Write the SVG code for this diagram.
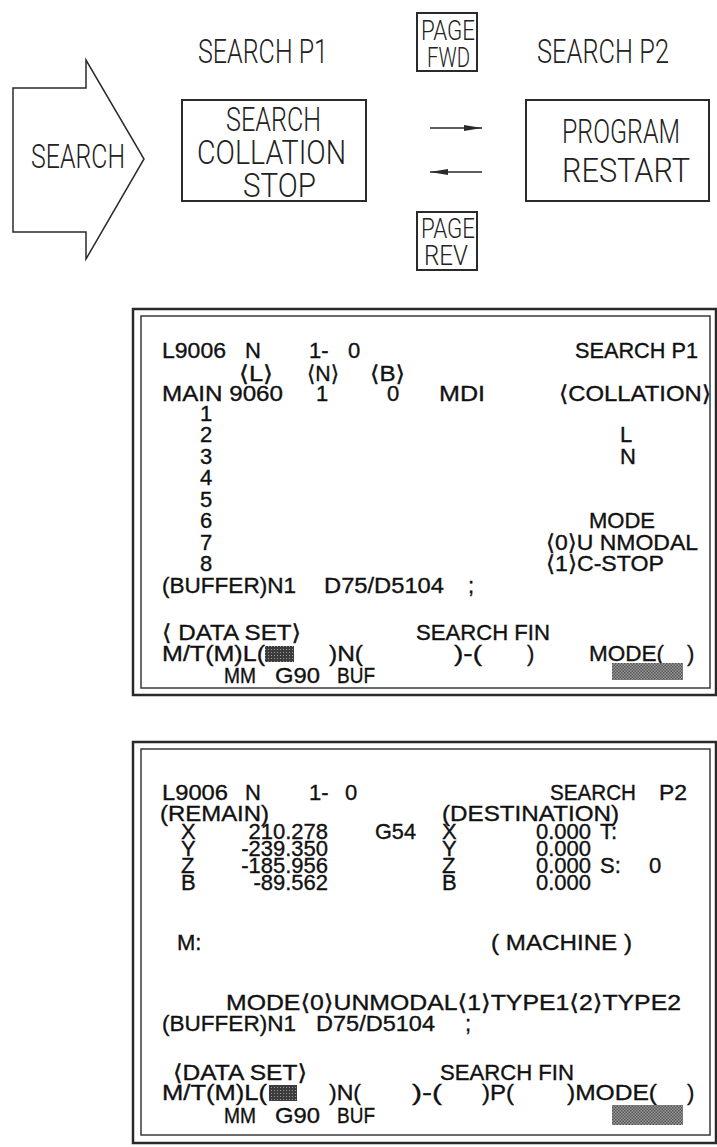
<svg xmlns="http://www.w3.org/2000/svg" width="717" height="1147" viewBox="0 0 717 1147">
<style>
.big{font-family:Roboto,"DejaVu Sans","Liberation Sans",sans-serif;font-weight:300;font-size:34px;fill:#222}
.pg{font-family:Roboto,"DejaVu Sans","Liberation Sans",sans-serif;font-weight:300;font-size:27px;fill:#222}
.t{font-family:"Liberation Sans","DejaVu Sans",sans-serif;font-size:22px;fill:#111;stroke:#111;stroke-width:0.35}
.box{fill:none;stroke:#2a2a2a;stroke-width:2}
.outer{fill:none;stroke:#2a2a2a;stroke-width:2.5}
.inner{fill:none;stroke:#3a3a3a;stroke-width:1.5}
.ln{stroke:#2a2a2a;stroke-width:1.5}
</style>
<defs>
<pattern id="dk" width="3" height="3" patternUnits="userSpaceOnUse">
<rect width="3" height="3" fill="#3c3c3c"/><rect x="1" y="1" width="1" height="1" fill="#9a9a9a"/>
</pattern>
<pattern id="lt" width="3" height="3" patternUnits="userSpaceOnUse">
<rect width="3" height="3" fill="#9a9a9a"/><rect x="0" y="0" width="1.5" height="1.5" fill="#555"/><rect x="1.5" y="1.5" width="1.5" height="1.5" fill="#555"/>
</pattern>
<marker id="ah" viewBox="0 0 18 6" refX="18" refY="3" markerWidth="18" markerHeight="6" markerUnits="userSpaceOnUse" orient="auto">
<path d="M0,0 L18,3 L0,6 Z" fill="#2a2a2a"/>
</marker>
</defs>

<g id="search-arrow">
<path d="M13,88 L86,88 L86,60 L144,159 L86,259 L86,232 L13,232 Z" fill="none" stroke="#2a2a2a" stroke-width="1.5"/>
<text class="big" x="31" y="168" textLength="94" lengthAdjust="spacingAndGlyphs">SEARCH</text>
</g>

<g id="label-p1"><text class="big" x="198" y="63" textLength="130" lengthAdjust="spacingAndGlyphs">SEARCH P1</text></g>
<g id="label-p2"><text class="big" x="537" y="63" textLength="132" lengthAdjust="spacingAndGlyphs">SEARCH P2</text></g>

<g id="node-collation">
<rect class="box" x="182" y="100" width="184" height="101"/>
<text class="big" x="226" y="131" textLength="95" lengthAdjust="spacingAndGlyphs">SEARCH</text>
<text class="big" x="197" y="164" textLength="149" lengthAdjust="spacingAndGlyphs">COLLATION</text>
<text class="big" x="243" y="197" textLength="73" lengthAdjust="spacingAndGlyphs">STOP</text>
</g>

<g id="node-restart">
<rect class="box" x="526" y="100" width="183" height="101"/>
<text class="big" x="562" y="143" textLength="118" lengthAdjust="spacingAndGlyphs">PROGRAM</text>
<text class="big" x="562" y="182" textLength="128" lengthAdjust="spacingAndGlyphs">RESTART</text>
</g>

<g id="key-page-fwd">
<rect class="box" x="417" y="13" width="60" height="58"/>
<text class="pg" x="421" y="40" textLength="54" lengthAdjust="spacingAndGlyphs">PAGE</text>
<text class="pg" x="427" y="67" textLength="43" lengthAdjust="spacingAndGlyphs">FWD</text>
</g>

<g id="key-page-rev">
<rect class="box" x="417" y="212" width="60" height="58"/>
<text class="pg" x="421" y="238" textLength="54" lengthAdjust="spacingAndGlyphs">PAGE</text>
<text class="pg" x="424" y="265" textLength="44" lengthAdjust="spacingAndGlyphs">REV</text>
</g>

<g id="connectors">
<line class="ln" x1="430" y1="128" x2="482" y2="128" marker-end="url(#ah)"/>
<line class="ln" x1="482" y1="172" x2="430" y2="172" marker-end="url(#ah)"/>
</g>

<g id="screen-p1">
<rect class="outer" x="133" y="309" width="583" height="386"/>
<rect class="inner" x="141" y="316" width="569" height="372"/>
<text class="t" x="162" y="358" textLength="64" lengthAdjust="spacingAndGlyphs">L9006</text>
<text class="t" x="245" y="358">N</text>
<text class="t" x="309" y="358">1-</text>
<text class="t" x="348" y="358">0</text>
<text class="t" x="575" y="358" textLength="123" lengthAdjust="spacingAndGlyphs">SEARCH P1</text>
<text class="t" x="239" y="381" textLength="34" lengthAdjust="spacingAndGlyphs">⟨L⟩</text>
<text class="t" x="307" y="381" textLength="32" lengthAdjust="spacingAndGlyphs">⟨N⟩</text>
<text class="t" x="370" y="381" textLength="35" lengthAdjust="spacingAndGlyphs">⟨B⟩</text>
<text class="t" x="162" y="401" textLength="121" lengthAdjust="spacingAndGlyphs">MAIN 9060</text>
<text class="t" x="316" y="401">1</text>
<text class="t" x="387" y="401">0</text>
<text class="t" x="439" y="401" textLength="46" lengthAdjust="spacingAndGlyphs">MDI</text>
<text class="t" x="559" y="401" textLength="152" lengthAdjust="spacingAndGlyphs">⟨COLLATION⟩</text>
<g text-anchor="middle">
<text class="t" x="206" y="421">1</text>
<text class="t" x="206" y="442">2</text>
<text class="t" x="206" y="464">3</text>
<text class="t" x="206" y="485">4</text>
<text class="t" x="206" y="507">5</text>
<text class="t" x="206" y="528">6</text>
<text class="t" x="206" y="550">7</text>
<text class="t" x="206" y="571">8</text>
</g>
<text class="t" x="620" y="442">L</text>
<text class="t" x="620" y="464">N</text>
<text class="t" x="589" y="528" textLength="66" lengthAdjust="spacingAndGlyphs">MODE</text>
<text class="t" x="546" y="550" textLength="152" lengthAdjust="spacingAndGlyphs">⟨0⟩U NMODAL</text>
<text class="t" x="546" y="571" textLength="118" lengthAdjust="spacingAndGlyphs">⟨1⟩C-STOP</text>
<text class="t" x="162" y="593" textLength="134" lengthAdjust="spacingAndGlyphs">(BUFFER)N1</text>
<text class="t" x="324" y="593" textLength="120" lengthAdjust="spacingAndGlyphs">D75/D5104</text>
<text class="t" x="468" y="593">;</text>
<text class="t" x="162" y="640" textLength="139" lengthAdjust="spacingAndGlyphs">⟨ DATA SET⟩</text>
<text class="t" x="416" y="640" textLength="134" lengthAdjust="spacingAndGlyphs">SEARCH FIN</text>
<text class="t" x="162" y="661" textLength="103" lengthAdjust="spacingAndGlyphs">M/T(M)L(</text>
<rect x="265" y="646" width="29" height="16" fill="url(#dk)"/>
<text class="t" x="329" y="661" textLength="34" lengthAdjust="spacingAndGlyphs">)N(</text>
<text class="t" x="454" y="661" textLength="28" lengthAdjust="spacingAndGlyphs">)-(</text>
<text class="t" x="527" y="661">)</text>
<text class="t" x="589" y="661" textLength="75" lengthAdjust="spacingAndGlyphs">MODE(</text>
<text class="t" x="687" y="661">)</text>
<rect x="612" y="663" width="71" height="17" fill="url(#lt)"/>
<text class="t" x="224" y="683" textLength="32" lengthAdjust="spacingAndGlyphs">MM</text>
<text class="t" x="275" y="683" textLength="45" lengthAdjust="spacingAndGlyphs">G90</text>
<text class="t" x="337" y="683" textLength="38" lengthAdjust="spacingAndGlyphs">BUF</text>
</g>

<g id="screen-p2">
<rect class="outer" x="133" y="742" width="583" height="401"/>
<rect class="inner" x="141" y="749" width="569" height="386"/>
<text class="t" x="162" y="800" textLength="66" lengthAdjust="spacingAndGlyphs">L9006</text>
<text class="t" x="245" y="800">N</text>
<text class="t" x="309" y="800">1-</text>
<text class="t" x="345" y="800">0</text>
<text class="t" x="550" y="800" textLength="86" lengthAdjust="spacingAndGlyphs">SEARCH</text>
<text class="t" x="659" y="800" textLength="28" lengthAdjust="spacingAndGlyphs">P2</text>
<text class="t" x="160" y="821" textLength="109" lengthAdjust="spacingAndGlyphs">(REMAIN)</text>
<text class="t" x="442" y="821" textLength="177" lengthAdjust="spacingAndGlyphs">(DESTINATION)</text>
<text class="t" x="181" y="839">X</text>
<text class="t" x="181" y="856">Y</text>
<text class="t" x="181" y="873">Z</text>
<text class="t" x="181" y="890">B</text>
<g text-anchor="end">
<text class="t" x="328" y="839">210.278</text>
<text class="t" x="328" y="856">-239.350</text>
<text class="t" x="328" y="873">-185.956</text>
<text class="t" x="328" y="890">-89.562</text>
<text class="t" x="591" y="839">0.000</text>
<text class="t" x="591" y="856">0.000</text>
<text class="t" x="591" y="873">0.000</text>
<text class="t" x="591" y="890">0.000</text>
</g>
<text class="t" x="375" y="839" textLength="41" lengthAdjust="spacingAndGlyphs">G54</text>
<text class="t" x="442" y="839">X</text>
<text class="t" x="442" y="856">Y</text>
<text class="t" x="442" y="873">Z</text>
<text class="t" x="442" y="890">B</text>
<text class="t" x="600" y="839">T:</text>
<text class="t" x="600" y="873">S:</text>
<text class="t" x="649" y="873">0</text>
<text class="t" x="177" y="950">M:</text>
<text class="t" x="491" y="950" textLength="141" lengthAdjust="spacingAndGlyphs">( MACHINE )</text>
<text class="t" x="226" y="1010" textLength="455" lengthAdjust="spacingAndGlyphs">MODE⟨0⟩UNMODAL⟨1⟩TYPE1⟨2⟩TYPE2</text>
<text class="t" x="162" y="1031" textLength="134" lengthAdjust="spacingAndGlyphs">(BUFFER)N1</text>
<text class="t" x="316" y="1031" textLength="119" lengthAdjust="spacingAndGlyphs">D75/D5104</text>
<text class="t" x="465" y="1031">;</text>
<text class="t" x="173" y="1080" textLength="134" lengthAdjust="spacingAndGlyphs">⟨DATA SET⟩</text>
<text class="t" x="440" y="1080" textLength="134" lengthAdjust="spacingAndGlyphs">SEARCH FIN</text>
<text class="t" x="162" y="1100" textLength="105" lengthAdjust="spacingAndGlyphs">M/T(M)L(</text>
<rect x="269" y="1085" width="28" height="16" fill="url(#dk)"/>
<text class="t" x="329" y="1100" textLength="32" lengthAdjust="spacingAndGlyphs">)N(</text>
<text class="t" x="412" y="1100" textLength="30" lengthAdjust="spacingAndGlyphs">)-(</text>
<text class="t" x="482" y="1100" textLength="32" lengthAdjust="spacingAndGlyphs">)P(</text>
<text class="t" x="567" y="1100" textLength="90" lengthAdjust="spacingAndGlyphs">)MODE(</text>
<text class="t" x="687" y="1100">)</text>
<rect x="612" y="1105" width="71" height="20" fill="url(#lt)"/>
<text class="t" x="224" y="1123" textLength="32" lengthAdjust="spacingAndGlyphs">MM</text>
<text class="t" x="275" y="1123" textLength="45" lengthAdjust="spacingAndGlyphs">G90</text>
<text class="t" x="337" y="1123" textLength="38" lengthAdjust="spacingAndGlyphs">BUF</text>
</g>
</svg>
